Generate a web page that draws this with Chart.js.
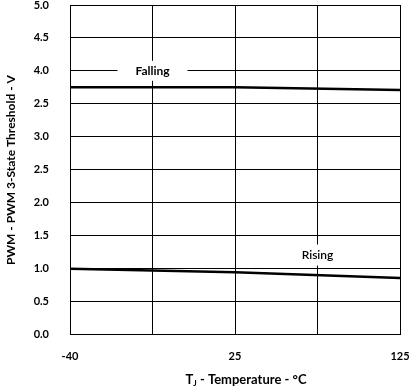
<!DOCTYPE html>
<html>
<head>
<meta charset="utf-8">
<script src="https://cdn.jsdelivr.net/npm/chart.js@4"></script>
<style>
  html, body { margin: 0; padding: 0; background: #fff; }
  #wrap { width: 410px; height: 388px; }
</style>
</head>
<body>
<div id="wrap"><canvas id="myChart" width="410" height="388"></canvas></div>
<script>
const tempLabels = ["-40", "", "25", "", "125"];
const fallingV = [3.75, null, 3.75, null, 3.71];
const risingV = [0.99, null, 0.94, null, 0.85];
// tick labels as printed on the original (note the "2.5" at 3.5)
const yTickLabels = ["0.0", "0.5", "1.0", "1.5", "2.0", "2.5", "3.0", "2.5", "4.0", "4.5", "5.0"];

const FONT = "Lato, 'Liberation Sans', sans-serif";

const notes = {
  id: "notes",
  afterDraw(chart) {
    const c = chart.ctx;
    const x = chart.scales.x;
    const y = chart.scales.y;
    c.save();
    c.fillStyle = "#000";
    c.textBaseline = "middle";
    c.textAlign = "center";

    // curve labels with white boxes over the grid
    const lbl = [
      { text: "Falling", i: 1, v: 4.0, w: 70, h: 20, bold: true },
      { text: "Rising", i: 3, v: 1.2, w: 46, h: 21, bold: false }
    ];
    lbl.forEach((l) => {
      const px = x.getPixelForValue(l.i);
      const py = y.getPixelForValue(l.v);
      c.fillStyle = "#fff";
      c.fillRect(px - l.w / 2, py - l.h / 2, l.w, l.h);
      c.fillStyle = "#000";
      c.font = (l.bold ? "bold " : "600 ") + "12px " + FONT;
      c.fillText(l.text, px, py);
    });

    // y title
    c.save();
    c.translate(11, 170);
    c.rotate(-Math.PI / 2);
    c.font = "bold 12px " + FONT;
    c.fillText("PWM - PWM 3-State Threshold - V", 0, 0);
    c.restore();

    // x title with subscript J
    const ty = 380;
    const a = "T";
    const rest = " - Temperature - \u00b0C";
    c.font = "bold 13px " + FONT;
    const wa = c.measureText(a).width;
    const wr = c.measureText(rest).width;
    c.font = "bold 8px " + FONT;
    const ws = c.measureText("J").width;
    const total = wa + ws + wr;
    let sx = 246 - total / 2;
    c.textAlign = "left";
    c.font = "bold 13px " + FONT;
    c.fillText(a, sx, ty);
    sx += wa;
    c.font = "bold 8px " + FONT;
    c.fillText("J", sx, ty + 3);
    sx += ws;
    c.font = "bold 13px " + FONT;
    c.fillText(rest, sx, ty);
    c.restore();
  }
};

const ctx = document.getElementById("myChart").getContext("2d");

const config = {
  type: "line",
  data: {
    labels: tempLabels,
    datasets: [
      {
        label: "Falling",
        data: fallingV,
        borderColor: "#000",
        borderWidth: 2.5,
        pointRadius: 0,
        spanGaps: true,
        tension: 0
      },
      {
        label: "Rising",
        data: risingV,
        borderColor: "#000",
        borderWidth: 2.5,
        pointRadius: 0,
        spanGaps: true,
        tension: 0
      }
    ]
  },
  options: {
    responsive: false,
    animation: false,
    layout: { padding: { top: 5, right: 10, left: 0, bottom: 0 } },
    plugins: {
      legend: { display: false },
      tooltip: { enabled: false },
      title: { display: false }
    },
    scales: {
      x: {
        type: "category",
        offset: false,
        grid: { color: "#000", lineWidth: 1, drawTicks: false },
        border: { color: "#000", width: 1 },
        ticks: {
          color: "#000",
          autoSkip: false,
          maxRotation: 0,
          padding: 16,
          font: { family: FONT, size: 11, weight: "bold" }
        },
        afterFit: (scale) => {
          scale.height = 54;
          scale.paddingLeft = 0;
          scale.paddingRight = 0;
        }
      },
      y: {
        min: 0,
        max: 5,
        grid: { color: "#000", lineWidth: 1, drawTicks: false },
        border: { color: "#000", width: 1 },
        ticks: {
          stepSize: 0.5,
          color: "#000",
          padding: 21,
          font: { family: FONT, size: 11, weight: "bold" },
          callback: (val, i) => yTickLabels[i]
        },
        afterFit: (scale) => {
          scale.width = 70;
          scale.paddingTop = 0;
          scale.paddingBottom = 0;
        }
      }
    }
  },
  plugins: [notes]
};

const myChart = new Chart(ctx, config);
</script>
</body>
</html>
